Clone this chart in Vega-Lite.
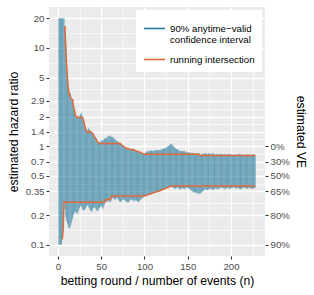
{
"$schema": "https://vega.github.io/schema/vega-lite/v6.json",
"width": 216, "height": 249,
"autosize": {"type": "none"},
"padding": {"left": 49, "top": 7, "right": 49, "bottom": 39},
"background": "white",
"config": {
  "font": "Liberation Sans",
  "view": {"fill": "#EBEBEB", "stroke": null},
  "axis": {"domain": false, "gridColor": "white", "tickColor": "#333333", "tickSize": 3, "tickWidth": 1.1, "labelColor": "#4D4D4D", "labelFontSize": 9.7, "labelFont": "Liberation Sans", "labelPadding": 2, "titleFont": "Liberation Sans", "titleFontSize": 12.2, "titleFontWeight": "normal", "titleColor": "black"}
},
"data": {"values": [
{"n":1,"lo":0.1,"hi":20,"rlo":null,"rhi":null},
{"n":2,"lo":0.1,"hi":20,"rlo":null,"rhi":null},
{"n":3,"lo":0.1,"hi":20,"rlo":null,"rhi":null},
{"n":4,"lo":0.1,"hi":20,"rlo":null,"rhi":null},
{"n":5,"lo":0.113,"hi":20,"rlo":0.113,"rhi":null},
{"n":6,"lo":0.14,"hi":20,"rlo":0.14,"rhi":null},
{"n":7,"lo":0.27,"hi":20,"rlo":0.27,"rhi":null},
{"n":8,"lo":0.23,"hi":16.7,"rlo":0.27,"rhi":16.7},
{"n":9,"lo":0.19,"hi":10.5,"rlo":0.27,"rhi":10.5},
{"n":10,"lo":0.175,"hi":6.8,"rlo":0.27,"rhi":6.8},
{"n":11,"lo":0.163,"hi":5.0,"rlo":0.27,"rhi":5.0},
{"n":12,"lo":0.152,"hi":3.9,"rlo":0.27,"rhi":3.9},
{"n":13,"lo":0.146,"hi":3.35,"rlo":0.27,"rhi":3.35},
{"n":14,"lo":0.15,"hi":3.5,"rlo":0.27,"rhi":3.35},
{"n":15,"lo":0.16,"hi":3.05,"rlo":0.27,"rhi":3.05},
{"n":16,"lo":0.17,"hi":2.98,"rlo":0.27,"rhi":2.98},
{"n":17,"lo":0.185,"hi":3.05,"rlo":0.27,"rhi":2.98},
{"n":18,"lo":0.2,"hi":2.55,"rlo":0.27,"rhi":2.55},
{"n":19,"lo":0.212,"hi":2.35,"rlo":0.27,"rhi":2.35},
{"n":20,"lo":0.218,"hi":2.15,"rlo":0.27,"rhi":2.15},
{"n":21,"lo":0.212,"hi":2.0,"rlo":0.27,"rhi":2.0},
{"n":22,"lo":0.206,"hi":1.96,"rlo":0.27,"rhi":1.96},
{"n":23,"lo":0.21,"hi":2.0,"rlo":0.27,"rhi":1.96},
{"n":24,"lo":0.222,"hi":2.05,"rlo":0.27,"rhi":1.96},
{"n":25,"lo":0.236,"hi":2.0,"rlo":0.27,"rhi":1.96},
{"n":26,"lo":0.248,"hi":2.12,"rlo":0.27,"rhi":1.96},
{"n":27,"lo":0.242,"hi":2.2,"rlo":0.27,"rhi":1.96},
{"n":28,"lo":0.232,"hi":2.05,"rlo":0.27,"rhi":1.96},
{"n":29,"lo":0.226,"hi":1.92,"rlo":0.27,"rhi":1.92},
{"n":30,"lo":0.222,"hi":1.78,"rlo":0.27,"rhi":1.78},
{"n":31,"lo":0.226,"hi":1.62,"rlo":0.27,"rhi":1.62},
{"n":32,"lo":0.236,"hi":1.5,"rlo":0.27,"rhi":1.5},
{"n":33,"lo":0.246,"hi":1.43,"rlo":0.27,"rhi":1.43},
{"n":34,"lo":0.252,"hi":1.4,"rlo":0.27,"rhi":1.4},
{"n":35,"lo":0.246,"hi":1.55,"rlo":0.27,"rhi":1.4},
{"n":36,"lo":0.236,"hi":1.5,"rlo":0.27,"rhi":1.4},
{"n":37,"lo":0.226,"hi":1.45,"rlo":0.27,"rhi":1.4},
{"n":38,"lo":0.22,"hi":1.42,"rlo":0.27,"rhi":1.4},
{"n":39,"lo":0.216,"hi":1.38,"rlo":0.27,"rhi":1.38},
{"n":40,"lo":0.226,"hi":1.36,"rlo":0.27,"rhi":1.36},
{"n":41,"lo":0.236,"hi":1.31,"rlo":0.27,"rhi":1.31},
{"n":42,"lo":0.242,"hi":1.26,"rlo":0.27,"rhi":1.26},
{"n":43,"lo":0.236,"hi":1.22,"rlo":0.27,"rhi":1.22},
{"n":44,"lo":0.23,"hi":1.18,"rlo":0.27,"rhi":1.18},
{"n":45,"lo":0.222,"hi":1.14,"rlo":0.27,"rhi":1.14},
{"n":46,"lo":0.22,"hi":1.11,"rlo":0.27,"rhi":1.11},
{"n":47,"lo":0.228,"hi":1.08,"rlo":0.27,"rhi":1.08},
{"n":48,"lo":0.236,"hi":1.07,"rlo":0.27,"rhi":1.07},
{"n":49,"lo":0.242,"hi":1.12,"rlo":0.27,"rhi":1.07},
{"n":50,"lo":0.248,"hi":1.13,"rlo":0.27,"rhi":1.07},
{"n":51,"lo":0.238,"hi":1.16,"rlo":0.27,"rhi":1.07},
{"n":52,"lo":0.23,"hi":1.14,"rlo":0.27,"rhi":1.07},
{"n":53,"lo":0.245,"hi":1.17,"rlo":0.27,"rhi":1.07},
{"n":54,"lo":0.258,"hi":1.2,"rlo":0.27,"rhi":1.07},
{"n":55,"lo":0.288,"hi":1.22,"rlo":0.288,"rhi":1.07},
{"n":56,"lo":0.27,"hi":1.2,"rlo":0.288,"rhi":1.07},
{"n":57,"lo":0.275,"hi":1.24,"rlo":0.288,"rhi":1.07},
{"n":58,"lo":0.28,"hi":1.27,"rlo":0.288,"rhi":1.07},
{"n":59,"lo":0.276,"hi":1.29,"rlo":0.288,"rhi":1.07},
{"n":60,"lo":0.27,"hi":1.26,"rlo":0.288,"rhi":1.07},
{"n":61,"lo":0.274,"hi":1.28,"rlo":0.288,"rhi":1.07},
{"n":62,"lo":0.313,"hi":1.24,"rlo":0.313,"rhi":1.07},
{"n":63,"lo":0.3,"hi":1.25,"rlo":0.313,"rhi":1.07},
{"n":64,"lo":0.295,"hi":1.21,"rlo":0.313,"rhi":1.07},
{"n":65,"lo":0.29,"hi":1.2,"rlo":0.313,"rhi":1.07},
{"n":66,"lo":0.284,"hi":1.18,"rlo":0.313,"rhi":1.07},
{"n":67,"lo":0.29,"hi":1.16,"rlo":0.313,"rhi":1.07},
{"n":68,"lo":0.3,"hi":1.14,"rlo":0.313,"rhi":1.07},
{"n":69,"lo":0.296,"hi":1.12,"rlo":0.313,"rhi":1.07},
{"n":70,"lo":0.286,"hi":1.1,"rlo":0.313,"rhi":1.07},
{"n":71,"lo":0.276,"hi":1.09,"rlo":0.313,"rhi":1.07},
{"n":72,"lo":0.27,"hi":1.08,"rlo":0.313,"rhi":1.07},
{"n":73,"lo":0.275,"hi":1.05,"rlo":0.313,"rhi":1.05},
{"n":74,"lo":0.28,"hi":1.03,"rlo":0.313,"rhi":1.03},
{"n":75,"lo":0.286,"hi":1.01,"rlo":0.313,"rhi":1.01},
{"n":76,"lo":0.29,"hi":1.0,"rlo":0.313,"rhi":1.0},
{"n":77,"lo":0.284,"hi":0.97,"rlo":0.313,"rhi":0.97},
{"n":78,"lo":0.278,"hi":0.96,"rlo":0.313,"rhi":0.96},
{"n":79,"lo":0.274,"hi":0.965,"rlo":0.313,"rhi":0.96},
{"n":80,"lo":0.27,"hi":0.95,"rlo":0.313,"rhi":0.95},
{"n":81,"lo":0.268,"hi":0.955,"rlo":0.313,"rhi":0.95},
{"n":82,"lo":0.272,"hi":0.94,"rlo":0.313,"rhi":0.94},
{"n":83,"lo":0.28,"hi":0.935,"rlo":0.313,"rhi":0.935},
{"n":84,"lo":0.286,"hi":0.94,"rlo":0.313,"rhi":0.935},
{"n":85,"lo":0.29,"hi":0.93,"rlo":0.313,"rhi":0.93},
{"n":86,"lo":0.285,"hi":0.93,"rlo":0.313,"rhi":0.93},
{"n":87,"lo":0.28,"hi":0.92,"rlo":0.313,"rhi":0.92},
{"n":88,"lo":0.275,"hi":0.925,"rlo":0.313,"rhi":0.92},
{"n":89,"lo":0.28,"hi":0.91,"rlo":0.313,"rhi":0.91},
{"n":90,"lo":0.285,"hi":0.9,"rlo":0.313,"rhi":0.9},
{"n":91,"lo":0.28,"hi":0.89,"rlo":0.313,"rhi":0.89},
{"n":92,"lo":0.275,"hi":0.89,"rlo":0.313,"rhi":0.89},
{"n":93,"lo":0.27,"hi":0.88,"rlo":0.313,"rhi":0.88},
{"n":94,"lo":0.276,"hi":0.875,"rlo":0.313,"rhi":0.875},
{"n":95,"lo":0.285,"hi":0.87,"rlo":0.313,"rhi":0.87},
{"n":96,"lo":0.29,"hi":0.86,"rlo":0.313,"rhi":0.86},
{"n":97,"lo":0.295,"hi":0.852,"rlo":0.313,"rhi":0.852},
{"n":98,"lo":0.3,"hi":0.845,"rlo":0.313,"rhi":0.845},
{"n":99,"lo":0.305,"hi":0.838,"rlo":0.313,"rhi":0.838},
{"n":100,"lo":0.31,"hi":0.83,"rlo":0.313,"rhi":0.83},
{"n":101,"lo":0.315,"hi":0.86,"rlo":0.315,"rhi":0.83},
{"n":102,"lo":0.317,"hi":0.88,"rlo":0.317,"rhi":0.83},
{"n":103,"lo":0.319,"hi":0.89,"rlo":0.319,"rhi":0.83},
{"n":104,"lo":0.321,"hi":0.88,"rlo":0.321,"rhi":0.83},
{"n":105,"lo":0.323,"hi":0.9,"rlo":0.323,"rhi":0.83},
{"n":106,"lo":0.325,"hi":0.89,"rlo":0.325,"rhi":0.83},
{"n":107,"lo":0.327,"hi":0.9,"rlo":0.327,"rhi":0.83},
{"n":108,"lo":0.33,"hi":0.91,"rlo":0.33,"rhi":0.83},
{"n":109,"lo":0.333,"hi":0.9,"rlo":0.333,"rhi":0.83},
{"n":110,"lo":0.336,"hi":0.89,"rlo":0.336,"rhi":0.83},
{"n":111,"lo":0.338,"hi":0.9,"rlo":0.338,"rhi":0.83},
{"n":112,"lo":0.34,"hi":0.91,"rlo":0.34,"rhi":0.83},
{"n":113,"lo":0.342,"hi":0.92,"rlo":0.342,"rhi":0.83},
{"n":114,"lo":0.344,"hi":0.9,"rlo":0.344,"rhi":0.83},
{"n":115,"lo":0.346,"hi":0.91,"rlo":0.346,"rhi":0.83},
{"n":116,"lo":0.348,"hi":0.92,"rlo":0.348,"rhi":0.83},
{"n":117,"lo":0.35,"hi":0.91,"rlo":0.35,"rhi":0.83},
{"n":118,"lo":0.353,"hi":0.92,"rlo":0.353,"rhi":0.83},
{"n":119,"lo":0.356,"hi":0.93,"rlo":0.356,"rhi":0.83},
{"n":120,"lo":0.36,"hi":0.92,"rlo":0.36,"rhi":0.83},
{"n":121,"lo":0.363,"hi":0.94,"rlo":0.363,"rhi":0.83},
{"n":122,"lo":0.366,"hi":0.95,"rlo":0.366,"rhi":0.83},
{"n":123,"lo":0.37,"hi":0.94,"rlo":0.37,"rhi":0.83},
{"n":124,"lo":0.373,"hi":0.96,"rlo":0.373,"rhi":0.83},
{"n":125,"lo":0.376,"hi":0.97,"rlo":0.376,"rhi":0.83},
{"n":126,"lo":0.379,"hi":0.98,"rlo":0.379,"rhi":0.83},
{"n":127,"lo":0.382,"hi":1.0,"rlo":0.382,"rhi":0.83},
{"n":128,"lo":0.385,"hi":1.01,"rlo":0.385,"rhi":0.83},
{"n":129,"lo":0.388,"hi":1.03,"rlo":0.388,"rhi":0.83},
{"n":130,"lo":0.392,"hi":1.05,"rlo":0.392,"rhi":0.83},
{"n":131,"lo":0.395,"hi":1.06,"rlo":0.395,"rhi":0.83},
{"n":132,"lo":0.385,"hi":1.04,"rlo":0.395,"rhi":0.83},
{"n":133,"lo":0.38,"hi":1.02,"rlo":0.395,"rhi":0.83},
{"n":134,"lo":0.375,"hi":0.99,"rlo":0.395,"rhi":0.83},
{"n":135,"lo":0.37,"hi":0.97,"rlo":0.395,"rhi":0.83},
{"n":136,"lo":0.372,"hi":0.95,"rlo":0.395,"rhi":0.83},
{"n":137,"lo":0.378,"hi":0.94,"rlo":0.395,"rhi":0.83},
{"n":138,"lo":0.382,"hi":0.93,"rlo":0.395,"rhi":0.83},
{"n":139,"lo":0.376,"hi":0.92,"rlo":0.395,"rhi":0.83},
{"n":140,"lo":0.37,"hi":0.91,"rlo":0.395,"rhi":0.83},
{"n":141,"lo":0.365,"hi":0.9,"rlo":0.395,"rhi":0.83},
{"n":142,"lo":0.368,"hi":0.9,"rlo":0.395,"rhi":0.83},
{"n":143,"lo":0.372,"hi":0.89,"rlo":0.395,"rhi":0.83},
{"n":144,"lo":0.376,"hi":0.9,"rlo":0.395,"rhi":0.83},
{"n":145,"lo":0.37,"hi":0.89,"rlo":0.395,"rhi":0.83},
{"n":146,"lo":0.366,"hi":0.9,"rlo":0.395,"rhi":0.83},
{"n":147,"lo":0.372,"hi":0.88,"rlo":0.395,"rhi":0.83},
{"n":148,"lo":0.378,"hi":0.87,"rlo":0.395,"rhi":0.83},
{"n":149,"lo":0.382,"hi":0.88,"rlo":0.395,"rhi":0.83},
{"n":150,"lo":0.378,"hi":0.87,"rlo":0.395,"rhi":0.83},
{"n":151,"lo":0.373,"hi":0.86,"rlo":0.395,"rhi":0.83},
{"n":152,"lo":0.368,"hi":0.87,"rlo":0.395,"rhi":0.83},
{"n":153,"lo":0.362,"hi":0.86,"rlo":0.395,"rhi":0.83},
{"n":154,"lo":0.356,"hi":0.85,"rlo":0.395,"rhi":0.83},
{"n":155,"lo":0.35,"hi":0.86,"rlo":0.395,"rhi":0.83},
{"n":156,"lo":0.345,"hi":0.85,"rlo":0.395,"rhi":0.83},
{"n":157,"lo":0.34,"hi":0.86,"rlo":0.395,"rhi":0.83},
{"n":158,"lo":0.337,"hi":0.85,"rlo":0.395,"rhi":0.83},
{"n":159,"lo":0.342,"hi":0.84,"rlo":0.395,"rhi":0.83},
{"n":160,"lo":0.336,"hi":0.85,"rlo":0.395,"rhi":0.83},
{"n":161,"lo":0.334,"hi":0.84,"rlo":0.395,"rhi":0.83},
{"n":162,"lo":0.332,"hi":0.85,"rlo":0.395,"rhi":0.83},
{"n":163,"lo":0.33,"hi":0.84,"rlo":0.395,"rhi":0.83},
{"n":164,"lo":0.328,"hi":0.805,"rlo":0.395,"rhi":0.805},
{"n":165,"lo":0.334,"hi":0.82,"rlo":0.395,"rhi":0.805},
{"n":166,"lo":0.34,"hi":0.83,"rlo":0.395,"rhi":0.805},
{"n":167,"lo":0.346,"hi":0.84,"rlo":0.395,"rhi":0.805},
{"n":168,"lo":0.352,"hi":0.83,"rlo":0.395,"rhi":0.805},
{"n":169,"lo":0.358,"hi":0.85,"rlo":0.395,"rhi":0.805},
{"n":170,"lo":0.362,"hi":0.84,"rlo":0.395,"rhi":0.805},
{"n":171,"lo":0.366,"hi":0.85,"rlo":0.395,"rhi":0.805},
{"n":172,"lo":0.362,"hi":0.84,"rlo":0.395,"rhi":0.805},
{"n":173,"lo":0.358,"hi":0.83,"rlo":0.395,"rhi":0.805},
{"n":174,"lo":0.362,"hi":0.84,"rlo":0.395,"rhi":0.805},
{"n":175,"lo":0.368,"hi":0.85,"rlo":0.395,"rhi":0.805},
{"n":176,"lo":0.372,"hi":0.84,"rlo":0.395,"rhi":0.805},
{"n":177,"lo":0.368,"hi":0.83,"rlo":0.395,"rhi":0.805},
{"n":178,"lo":0.364,"hi":0.84,"rlo":0.395,"rhi":0.805},
{"n":179,"lo":0.36,"hi":0.85,"rlo":0.395,"rhi":0.805},
{"n":180,"lo":0.364,"hi":0.84,"rlo":0.395,"rhi":0.805},
{"n":181,"lo":0.37,"hi":0.83,"rlo":0.395,"rhi":0.805},
{"n":182,"lo":0.375,"hi":0.82,"rlo":0.395,"rhi":0.805},
{"n":183,"lo":0.372,"hi":0.83,"rlo":0.395,"rhi":0.805},
{"n":184,"lo":0.368,"hi":0.84,"rlo":0.395,"rhi":0.805},
{"n":185,"lo":0.364,"hi":0.83,"rlo":0.395,"rhi":0.805},
{"n":186,"lo":0.368,"hi":0.82,"rlo":0.395,"rhi":0.805},
{"n":187,"lo":0.374,"hi":0.83,"rlo":0.395,"rhi":0.805},
{"n":188,"lo":0.378,"hi":0.84,"rlo":0.395,"rhi":0.805},
{"n":189,"lo":0.382,"hi":0.83,"rlo":0.395,"rhi":0.805},
{"n":190,"lo":0.378,"hi":0.82,"rlo":0.395,"rhi":0.805},
{"n":191,"lo":0.374,"hi":0.83,"rlo":0.395,"rhi":0.805},
{"n":192,"lo":0.37,"hi":0.84,"rlo":0.395,"rhi":0.805},
{"n":193,"lo":0.366,"hi":0.83,"rlo":0.395,"rhi":0.805},
{"n":194,"lo":0.37,"hi":0.82,"rlo":0.395,"rhi":0.805},
{"n":195,"lo":0.375,"hi":0.83,"rlo":0.395,"rhi":0.805},
{"n":196,"lo":0.38,"hi":0.82,"rlo":0.395,"rhi":0.805},
{"n":197,"lo":0.376,"hi":0.83,"rlo":0.395,"rhi":0.805},
{"n":198,"lo":0.372,"hi":0.84,"rlo":0.395,"rhi":0.805},
{"n":199,"lo":0.368,"hi":0.83,"rlo":0.395,"rhi":0.805},
{"n":200,"lo":0.372,"hi":0.82,"rlo":0.395,"rhi":0.805},
{"n":201,"lo":0.376,"hi":0.83,"rlo":0.395,"rhi":0.805},
{"n":202,"lo":0.38,"hi":0.82,"rlo":0.395,"rhi":0.805},
{"n":203,"lo":0.384,"hi":0.81,"rlo":0.395,"rhi":0.805},
{"n":204,"lo":0.38,"hi":0.82,"rlo":0.395,"rhi":0.805},
{"n":205,"lo":0.376,"hi":0.83,"rlo":0.395,"rhi":0.805},
{"n":206,"lo":0.372,"hi":0.82,"rlo":0.395,"rhi":0.805},
{"n":207,"lo":0.375,"hi":0.83,"rlo":0.395,"rhi":0.805},
{"n":208,"lo":0.378,"hi":0.82,"rlo":0.395,"rhi":0.805},
{"n":209,"lo":0.374,"hi":0.83,"rlo":0.395,"rhi":0.805},
{"n":210,"lo":0.37,"hi":0.84,"rlo":0.395,"rhi":0.805},
{"n":211,"lo":0.366,"hi":0.83,"rlo":0.395,"rhi":0.805},
{"n":212,"lo":0.37,"hi":0.82,"rlo":0.395,"rhi":0.805},
{"n":213,"lo":0.374,"hi":0.83,"rlo":0.395,"rhi":0.805},
{"n":214,"lo":0.378,"hi":0.82,"rlo":0.395,"rhi":0.805},
{"n":215,"lo":0.382,"hi":0.81,"rlo":0.395,"rhi":0.805},
{"n":216,"lo":0.378,"hi":0.82,"rlo":0.395,"rhi":0.805},
{"n":217,"lo":0.374,"hi":0.83,"rlo":0.395,"rhi":0.805},
{"n":218,"lo":0.37,"hi":0.82,"rlo":0.395,"rhi":0.805},
{"n":219,"lo":0.372,"hi":0.83,"rlo":0.395,"rhi":0.805},
{"n":220,"lo":0.376,"hi":0.82,"rlo":0.395,"rhi":0.805},
{"n":221,"lo":0.38,"hi":0.83,"rlo":0.395,"rhi":0.805},
{"n":222,"lo":0.376,"hi":0.82,"rlo":0.395,"rhi":0.805},
{"n":223,"lo":0.372,"hi":0.81,"rlo":0.395,"rhi":0.805},
{"n":224,"lo":0.368,"hi":0.82,"rlo":0.395,"rhi":0.805},
{"n":225,"lo":0.372,"hi":0.83,"rlo":0.395,"rhi":0.805},
{"n":226,"lo":0.376,"hi":0.82,"rlo":0.395,"rhi":0.805},
{"n":227,"lo":0.378,"hi":0.83,"rlo":0.395,"rhi":0.805},
{"n":228,"lo":0.375,"hi":0.82,"rlo":0.395,"rhi":0.805}
]},
"encoding": {
  "x": {"field": "n", "type": "quantitative",
    "scale": {"domain": [-10.35, 239.35], "nice": false, "zero": false},
    "axis": {"title": "betting round / number of events (n)", "values": [0,25,50,75,100,125,150,175,200,225],
      "labelExpr": "datum.value % 50 == 0 ? datum.label : ''", "labelFlush": false, "titlePadding": 4,
      "gridWidth": {"condition": {"test": "datum.value % 50 == 0", "value": 1.3}, "value": 0.6},
      "tickOpacity": {"condition": {"test": "datum.value % 50 == 0", "value": 1}, "value": 0}}}
},
"layer": [
  {"mark": {"type": "rule", "strokeWidth": 1, "opacity": 0.6},
   "encoding": {
     "y": {"field": "lo", "type": "quantitative",
       "scale": {"type": "log", "domain": [0.0767, 26.07], "nice": false},
       "axis": {"orient": "left", "title": "estimated hazard ratio", "format": "~g", "titlePadding": 5,
         "values": [0.1,0.1414,0.2,0.2646,0.35,0.4183,0.5,0.5916,0.7,0.8367,1,1.1832,1.4,1.6733,2,2.4083,2.9,3.8079,5,7.0711,10,14.1421,20],
         "labelExpr": "indexof([0.1,0.2,0.35,0.5,0.7,1,1.4,2,2.9,5,10,20], datum.value) >= 0 ? datum.label : ''",
         "gridWidth": {"condition": {"test": "indexof([0.1,0.2,0.35,0.5,0.7,1,1.4,2,2.9,5,10,20], datum.value) >= 0", "value": 1.3}, "value": 0.6},
         "tickOpacity": {"condition": {"test": "indexof([0.1,0.2,0.35,0.5,0.7,1,1.4,2,2.9,5,10,20], datum.value) >= 0", "value": 1}, "value": 0}}},
     "y2": {"field": "hi"},
     "color": {"datum": "ci", "type": "nominal",
       "scale": {"domain": ["ci", "ri"], "range": ["#22789A", "#E0693A"]},
       "legend": {"title": null, "orient": "top-right", "offset": 3, "padding": 7, "fillColor": "white",
         "symbolType": "stroke", "symbolSize": 441, "symbolStrokeWidth": 1.6, "symbolOpacity": 1,
         "labelFontSize": 9.7, "labelFont": "Liberation Sans", "labelColor": "black", "labelOffset": 4, "labelLimit": 200, "rowPadding": 3,
         "labelExpr": "datum.label == 'ci' ? ['90% anytime−valid', 'confidence interval'] : 'running intersection'"}}
   }},
  {"mark": {"type": "line", "strokeWidth": 1.5},
   "encoding": {
     "y": {"field": "rhi", "type": "quantitative",
       "scale": {"type": "log", "domain": [0.0767, 26.07], "nice": false},
       "axis": {"orient": "right", "title": "estimated VE", "grid": false, "titlePadding": 4,
         "values": [0.1,0.2,0.35,0.5,0.7,1],
         "labelExpr": "format(1 - datum.value, '.0%')"}},
     "color": {"datum": "ri", "type": "nominal"}
   }},
  {"mark": {"type": "line", "strokeWidth": 1.5},
   "encoding": {
     "y": {"field": "rlo", "type": "quantitative",
       "scale": {"type": "log", "domain": [0.0767, 26.07], "nice": false},
       "axis": null},
     "color": {"datum": "ri", "type": "nominal"}
   }}
],
"resolve": {"axis": {"y": "independent"}}
}
